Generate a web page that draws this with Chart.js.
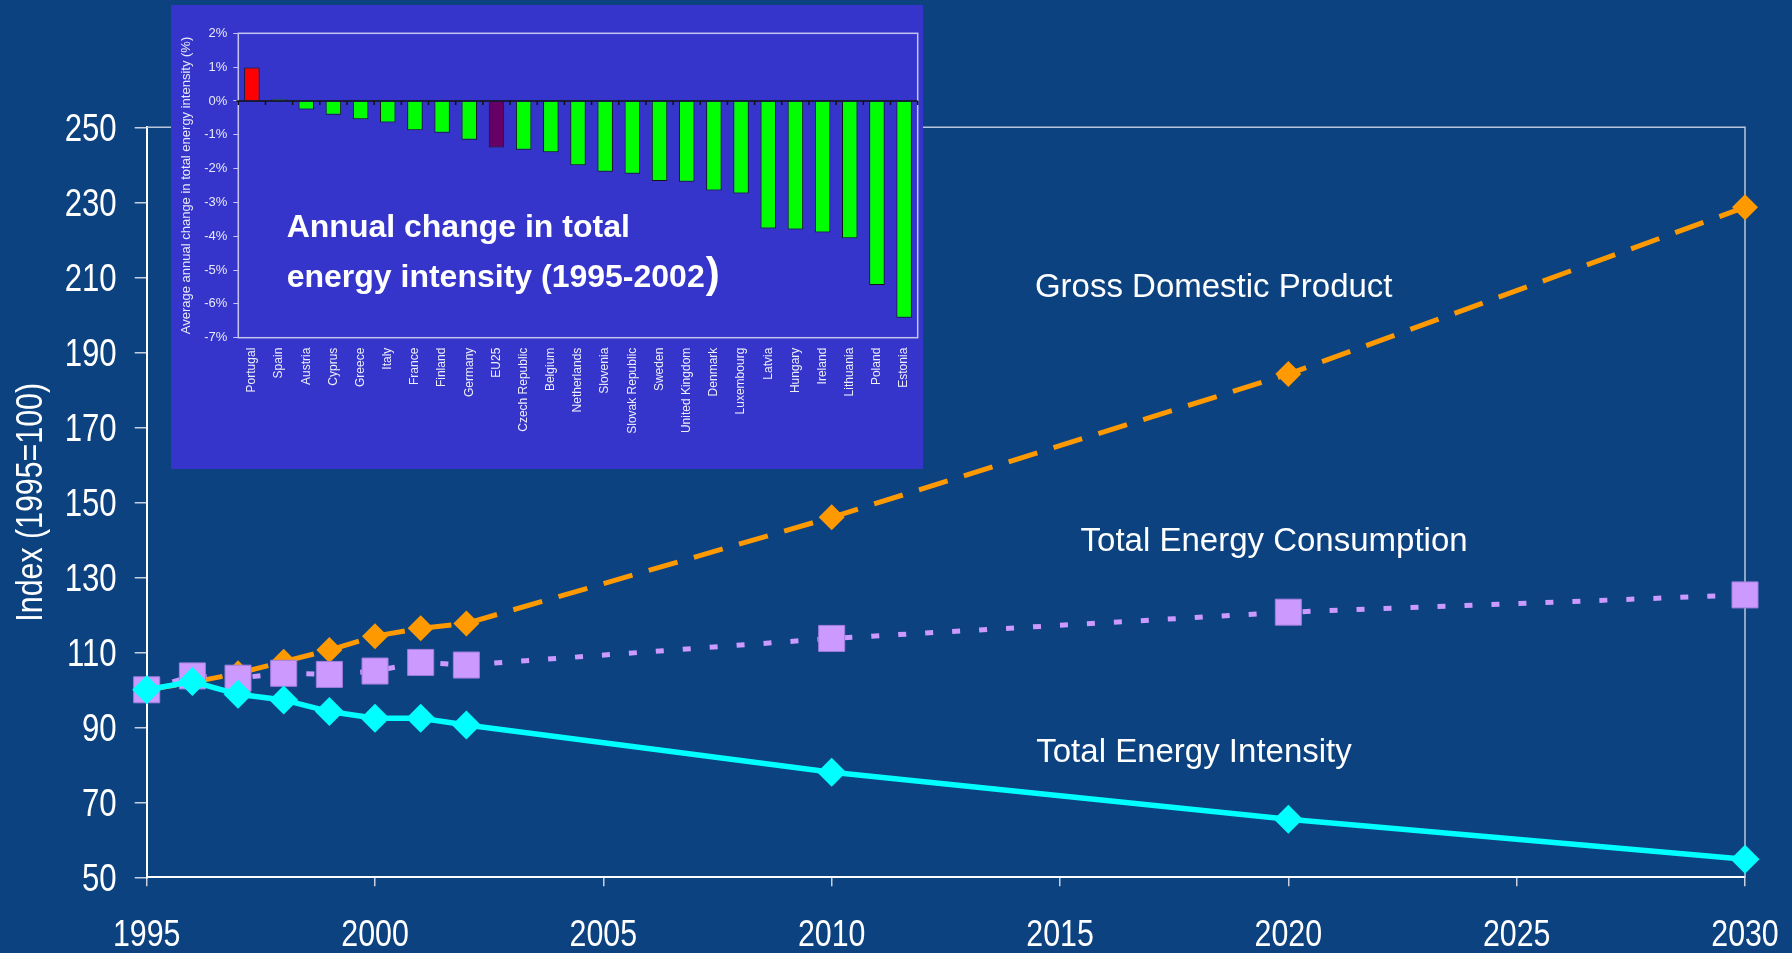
<!DOCTYPE html>
<html>
<head>
<meta charset="utf-8">
<title>Energy intensity index</title>
<script src="https://cdn.jsdelivr.net/npm/chart.js@4.4.0/dist/chart.umd.min.js"></script>
<style>
  html, body { margin: 0; padding: 0; background: #0c4280; overflow: hidden; }
  #wrap { position: relative; width: 1792px; height: 953px; }
  #main { position: absolute; left: 0; top: 0; }
  #inset { position: absolute; left: 171px; top: 5px; background: #3535cc; }
</style>
</head>
<body>
<div id="wrap">
  <canvas id="main" width="1792" height="953"></canvas>
  <canvas id="inset" width="752" height="464"></canvas>
</div>
<script>
// main chart: index 1995=100
const years = [1995, 1996, 1997, 1998, 1999, 2000, 2001, 2002, 2010, 2020, 2030];
const gdp = [100, 102, 104.4, 107.5, 110.6, 114.3, 116.4, 117.7, 146.0, 184.2, 228.7];
const consumption = [100, 103.7, 103.1, 104.4, 104.1, 105.0, 107.3, 106.6, 113.7, 120.7, 125.3];
const intensity = [100, 102.2, 98.8, 97.3, 94.2, 92.4, 92.4, 90.6, 78.0, 65.5, 54.8];
const yTicks = [50, 70, 90, 110, 130, 150, 170, 190, 210, 230, 250];
const xTicks = [1995, 2000, 2005, 2010, 2015, 2020, 2025, 2030];

// inset: annual change in total energy intensity 1995-2002 (%)
const countries = ["Portugal", "Spain", "Austria", "Cyprus", "Greece", "Italy", "France", "Finland",
  "Germany", "EU25", "Czech Republic", "Belgium", "Netherlands", "Slovenia", "Slovak Republic",
  "Sweden", "United Kingdom", "Denmark", "Luxembourg", "Latvia", "Hungary", "Ireland",
  "Lithuania", "Poland", "Estonia"];
const annualChange = [0.99, 0.05, -0.25, -0.41, -0.54, -0.64, -0.87, -0.94, -1.15, -1.38, -1.44,
  -1.52, -1.90, -2.09, -2.15, -2.37, -2.39, -2.65, -2.74, -3.77, -3.80, -3.89, -4.06, -5.44, -6.41];
const insetTicks = [2, 1, 0, -1, -2, -3, -4, -5, -6, -7];

const arial = "'Liberation Sans', Arial, sans-serif";
const squeeze = 0.82; // no narrow font installed, so condense by hand

const toPoints = (vals) => years.map((y, i) => ({ x: y, y: vals[i] }));

// condensed text helper
function narrowText(ctx, text, x, y, rot) {
  ctx.save();
  ctx.translate(x, y);
  if (rot) ctx.rotate(rot);
  ctx.scale(squeeze, 1);
  ctx.fillText(text, 0, 0);
  ctx.restore();
}

// tick labels and axis title, drawn condensed like the original
const axisText = {
  id: "axisText",
  afterDraw(chart) {
    const { ctx, chartArea: a, scales: { x, y } } = chart;
    ctx.save();
    ctx.fillStyle = "#ffffff";
    ctx.textBaseline = "alphabetic";
    ctx.font = "37px " + arial;
    ctx.textAlign = "center";
    x.ticks.forEach((t) => narrowText(ctx, String(t.value), x.getPixelForValue(t.value), a.bottom + 68.7));
    ctx.font = "38px " + arial;
    ctx.textAlign = "right";
    y.ticks.forEach((t) => narrowText(ctx, String(t.value), a.left - 30, y.getPixelForValue(t.value) + 13.6));
    ctx.font = "37px " + arial;
    ctx.textAlign = "center";
    narrowText(ctx, "Index (1995=100)", 41.7, (a.top + a.bottom) / 2, -Math.PI / 2);
    ctx.restore();
  }
};

// series names written next to the lines (anchored in data units)
const seriesNames = {
  id: "seriesNames",
  afterDatasetsDraw(chart) {
    const { ctx, scales: { x, y } } = chart;
    ctx.save();
    ctx.fillStyle = "#ffffff";
    ctx.font = "33px " + arial;
    ctx.textBaseline = "middle";
    ctx.fillText("Gross Domestic Product", x.getPixelForValue(2014.45), y.getPixelForValue(207.1));
    ctx.fillText("Total Energy Consumption", x.getPixelForValue(2015.45), y.getPixelForValue(139.4));
    ctx.fillText("Total Energy Intensity", x.getPixelForValue(2014.48), y.getPixelForValue(83.1));
    ctx.restore();
  }
};

// thin frame on top and right side of the plot
const plotFrame = {
  id: "plotFrame",
  beforeDatasetsDraw(chart) {
    const { ctx, chartArea: a } = chart;
    ctx.save();
    ctx.strokeStyle = "#b9c6dc";
    ctx.lineWidth = 1.5;
    ctx.beginPath();
    ctx.moveTo(a.left, a.top);
    ctx.lineTo(a.right, a.top);
    ctx.lineTo(a.right, a.bottom);
    ctx.stroke();
    ctx.restore();
  }
};

new Chart(document.getElementById("main"), {
  type: "line",
  data: {
    datasets: [
      {
        label: "Total Energy Intensity",
        data: toPoints(intensity),
        borderColor: "#00ffff",
        backgroundColor: "#00ffff",
        borderWidth: 5.5,
        pointStyle: "rectRot",
        pointRadius: 14.5,
        pointBorderWidth: 0,
        clip: false
      },
      {
        label: "Total Energy Consumption",
        data: toPoints(consumption),
        borderColor: "#cc99ff",
        backgroundColor: "#cc99ff",
        borderWidth: 5,
        borderDash: [8, 19],
        pointStyle: "rect",
        pointRadius: 18.4,
        pointBorderColor: "#a27fdc",
        pointBorderWidth: 1,
        clip: false
      },
      {
        label: "Gross Domestic Product",
        data: toPoints(gdp),
        borderColor: "#ff9900",
        backgroundColor: "#ff9900",
        borderWidth: 5,
        borderDash: [30, 17],
        pointStyle: "rectRot",
        pointRadius: 13,
        pointBorderWidth: 0,
        clip: false
      }
    ]
  },
  options: {
    responsive: false,
    animation: false,
    events: [],
    layout: { padding: { top: 127.3, right: 47, left: 0, bottom: 0 } },
    plugins: { legend: { display: false }, tooltip: { enabled: false } },
    scales: {
      x: {
        type: "linear",
        min: 1995,
        max: 2030,
        afterBuildTicks: (s) => { s.ticks = xTicks.map((v) => ({ value: v })); },
        afterFit: (s) => { s.height = 75.7; },
        grid: { drawOnChartArea: false, tickLength: 9, color: "#c8d0e0", lineWidth: 1.5 },
        border: { display: true, color: "#ffffff", width: 2 },
        ticks: { display: false }
      },
      y: {
        min: 50,
        max: 250,
        afterBuildTicks: (s) => { s.ticks = yTicks.map((v) => ({ value: v })); },
        afterFit: (s) => { s.width = 146.7; },
        grid: { drawOnChartArea: false, tickLength: 12, color: "#c8d0e0", lineWidth: 1.5 },
        border: { display: true, color: "#ffffff", width: 2 },
        ticks: { display: false }
      }
    }
  },
  plugins: [plotFrame, seriesNames, axisText]
});

// ---- inset bar chart ----
const insetDecor = {
  id: "insetDecor",
  beforeDatasetsDraw(chart) {
    const { ctx, chartArea: a } = chart;
    ctx.save();
    ctx.strokeStyle = "#c4c4ee";
    ctx.lineWidth = 1.5;
    ctx.strokeRect(a.left, a.top, a.right - a.left, a.bottom - a.top);
    ctx.restore();
  },
  afterDatasetsDraw(chart) {
    const { ctx, chartArea: a, scales: { x, y } } = chart;
    const y0 = y.getPixelForValue(0);
    ctx.save();
    ctx.strokeStyle = "#111111";
    ctx.lineWidth = 1.5;
    ctx.beginPath();
    ctx.moveTo(a.left - 2, y0);
    ctx.lineTo(a.right, y0);
    for (let i = 0; i <= countries.length; i++) {
      const px = x.getPixelForValue(i - 0.5);
      ctx.moveTo(px, y0);
      ctx.lineTo(px, y0 + 4);
    }
    ctx.stroke();
    ctx.restore();
  },
  afterDraw(chart) {
    const ctx = chart.ctx;
    ctx.save();
    ctx.fillStyle = "#ffffff";
    ctx.font = "bold 32px " + arial;
    ctx.textBaseline = "alphabetic";
    ctx.fillText("Annual change in total", 115.7, 232.3);
    const line2 = "energy intensity (1995-2002";
    ctx.fillText(line2, 115.7, 281.7);
    const w = ctx.measureText(line2).width;
    ctx.font = "bold 42px " + arial;
    ctx.fillText(")", 115.7 + w + 1, 282);
    ctx.restore();
  }
};

new Chart(document.getElementById("inset"), {
  type: "bar",
  data: {
    labels: countries,
    datasets: [{
      data: annualChange,
      backgroundColor: countries.map((c) => c === "Portugal" ? "#ff0000" : c === "EU25" ? "#660066" : "#00ff00"),
      borderColor: "#151515",
      borderWidth: 1,
      barPercentage: 0.57,
      categoryPercentage: 1
    }]
  },
  options: {
    responsive: false,
    animation: false,
    events: [],
    layout: { padding: { top: 28.3, right: 5.3, left: 0, bottom: 0 } },
    plugins: { legend: { display: false }, tooltip: { enabled: false } },
    scales: {
      x: {
        afterFit: (s) => { s.height = 131.3; },
        grid: { display: false },
        border: { display: false },
        ticks: {
          color: "#eeeefa",
          font: { family: arial, size: 12 },
          minRotation: 90,
          maxRotation: 90,
          autoSkip: false,
          padding: 2
        }
      },
      y: {
        min: -7,
        max: 2,
        afterBuildTicks: (s) => { s.ticks = insetTicks.map((v) => ({ value: v })); },
        afterFit: (s) => { s.width = 67.3; },
        grid: { drawOnChartArea: false, tickLength: 5, color: "#c4c4ee", lineWidth: 1 },
        border: { display: false },
        ticks: {
          color: "#e8e8f8",
          font: { family: arial, size: 13 },
          padding: 6,
          callback: (v) => v + "%"
        },
        title: {
          display: true,
          text: "Average annual change in total energy intensity (%)",
          color: "#e8e8f8",
          font: { family: arial, size: 13 },
          padding: { top: 8, bottom: 0 }
        }
      }
    }
  },
  plugins: [insetDecor]
});
</script>
</body>
</html>
